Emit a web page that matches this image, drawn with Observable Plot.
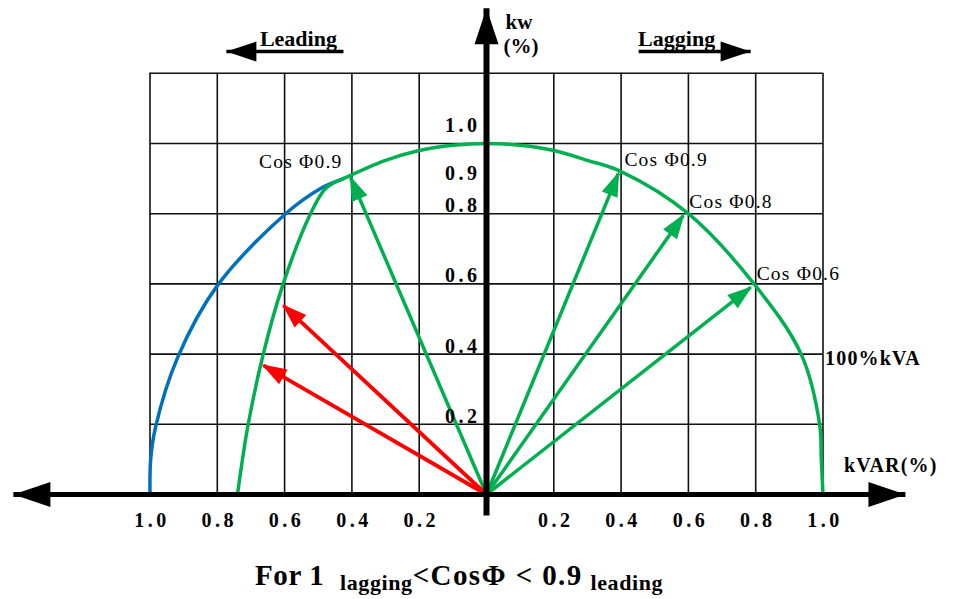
<!DOCTYPE html>
<html><head><meta charset="utf-8">
<script src="https://cdn.jsdelivr.net/npm/d3@7"></script>
<script src="https://cdn.jsdelivr.net/npm/@observablehq/plot@0.6"></script>
<style>
body{margin:0;background:#fff;width:954px;height:599px;overflow:hidden;position:relative}
#chart{position:absolute;left:0;top:0}
#caption{position:absolute;left:255px;top:560px;font-family:"Liberation Serif",serif;font-weight:bold;font-size:29px;white-space:nowrap;line-height:30px;color:#000;letter-spacing:0.6px}
#caption sub{font-size:22px;vertical-align:-5px;line-height:0;letter-spacing:0.6px}
#caption .rel{letter-spacing:1.4px}
</style></head><body>
<div id="chart"></div>
<div id="caption">For 1&nbsp; <sub>lagging</sub><span class="rel">&lt;CosΦ &lt; 0.9</span> <sub>leading</sub></div>
<script>
// ---- data (kVAR on x, kW on y, per unit) ----
const xGrid = [-1.0, -0.8, -0.6, -0.4, -0.2, 0.2, 0.4, 0.6, 0.8, 1.0];
const yGrid = [0.2, 0.4, 0.6, 0.8, 1.0, 1.2];
const xTickLabels = ["1.0", "0.8", "0.6", "0.4", "0.2", "0.2", "0.4", "0.6", "0.8", "1.0"];
const yTickValues = [0.2, 0.4, 0.6, 0.8, 0.9, 1.0];
const yTickLabels = ["0.2", "0.4", "0.6", "0.8", "0.9", "1.0"];

// 100% kVA limit (green), lagging side over the top to the leading 0.9 point
const kvaArcKVAR = [1.0, 0.995, 0.99, 0.935, 0.795, 0.6, 0.4, 0.3, 0.2, 0.1, 0.0, -0.1, -0.2, -0.3, -0.425];
const kvaArcKW   = [0.0, 0.1, 0.2, 0.4, 0.6, 0.8, 0.92, 0.952, 0.98, 0.995, 1.0, 0.995, 0.98, 0.952, 0.9];
// blue: rest of the 100% kVA circle on the leading side
const blueArcKVAR = [-1.0, -0.998, -0.984, -0.918, -0.8, -0.597, -0.493, -0.425];
const blueArcKW   = [0.0, 0.1, 0.19, 0.39, 0.595, 0.8, 0.872, 0.9];
// green: leading capability limit
const leadLimitKVAR = [-0.425, -0.478, -0.523, -0.606, -0.666, -0.71, -0.74];
const leadLimitKW   = [0.9, 0.872, 0.8, 0.595, 0.39, 0.19, 0.0];

// arrows from origin
const greenArrowKVAR = [-0.404, 0.392, 0.585, 0.785];
const greenArrowKW   = [0.903, 0.915, 0.795, 0.59];
const greenArrowLabel = ["Cos Φ0.9", "Cos Φ0.9", "Cos Φ0.8", "Cos Φ0.6"];
const redArrowKVAR = [-0.603, -0.663];
const redArrowKW   = [0.538, 0.368];

// axis extents and direction hints
const axisKVAR = [-1.406, 1.245];
const axisKW = [-0.06, 1.385];
const leadingArrow = [-0.425, -0.773];
const laggingArrow = [0.452, 0.785];
const directionRowKW = 1.262;
const directionLabels = ["Leading", "Lagging"];
const directionLabelKVAR = [-0.559, 0.565];
const directionLabelKW = 1.299;

// ---- helpers ----
const zip = (xs, ys, extra = {}) => xs.map((x, i) => ({x, y: ys[i], ...Object.fromEntries(Object.entries(extra).map(([k, v]) => [k, v[i]]))}));
function tri(len, half, over = 0) {
  return (color, context) => {
    const doc = (context && context.document) || document;
    const m = doc.createElementNS("http://www.w3.org/2000/svg", "marker");
    m.setAttribute("viewBox", `${-len} ${-half} ${len} ${2 * half}`);
    m.setAttribute("markerWidth", len);
    m.setAttribute("markerHeight", 2 * half);
    m.setAttribute("markerUnits", "userSpaceOnUse");
    m.setAttribute("refX", 0);
    m.setAttribute("refY", 0);
    m.setAttribute("orient", "auto-start-reverse");
    m.setAttribute("overflow", "visible");
    const p = doc.createElementNS("http://www.w3.org/2000/svg", "path");
    p.setAttribute("d", `M${over},0L${over - len},${-half}L${over - len},${half}Z`);
    p.setAttribute("fill", color === "currentColor" ? "black" : color);
    p.setAttribute("stroke", "none");
    m.appendChild(p);
    return m;
  };
}

const GREEN = "#00b050", BLUE = "#0070c0", RED = "#ff0000";
const serif = "'Liberation Serif', 'Times New Roman', serif";

const kvaArc = zip(kvaArcKVAR, kvaArcKW);
const blueArc = zip(blueArcKVAR, blueArcKW);
const leadLimit = zip(leadLimitKVAR, leadLimitKW);
const greenArrows = zip(greenArrowKVAR, greenArrowKW, {label: greenArrowLabel});
const redArrows = zip(redArrowKVAR, redArrowKW);
const xTicks = zip(xGrid, xGrid.map(() => 0), {label: xTickLabels});
const yTicks = zip(yTickValues.map(() => 0), yTickValues, {label: yTickLabels});

const tickText = {fontFamily: serif, fontWeight: "bold", fontSize: 20};

const chart = Plot.plot({
  width: 954,
  height: 550,
  margin: 0,
  x: {domain: [-486 / 336.5, (954 - 486) / 336.5], axis: null},
  y: {domain: [(494 - 550) / 351, 494 / 351], axis: null},
  style: {background: "white", color: "black", overflow: "visible"},
  marks: [
    // grid
    Plot.ruleX(xGrid, {x: d => d, y1: 0, y2: 1.2, stroke: "#111", strokeWidth: 1.6}),
    Plot.ruleY(yGrid, {y: d => d, x1: -1, x2: 1, stroke: "#111", strokeWidth: 1.6}),
    // curves
    Plot.line(blueArc, {x: "x", y: "y", stroke: BLUE, strokeWidth: 3.5, curve: "catmull-rom"}),
    Plot.line(kvaArc, {x: "x", y: "y", stroke: GREEN, strokeWidth: 3.5, curve: "catmull-rom"}),
    Plot.line(leadLimit, {x: "x", y: "y", stroke: GREEN, strokeWidth: 3.5, curve: "catmull-rom"}),
    // arrows
    Plot.link(greenArrows, {x1: 0, y1: 0, x2: "x", y2: "y", stroke: GREEN, strokeWidth: 3.5, markerEnd: tri(25, 8.5, 2)}),
    Plot.link(redArrows, {x1: 0, y1: 0, x2: "x", y2: "y", stroke: RED, strokeWidth: 3.8, markerEnd: tri(25, 8.5, 2)}),
    // main axes
    Plot.link([0], {x1: axisKVAR[0], x2: axisKVAR[1], y1: 0, y2: 0, stroke: "black", strokeWidth: 5, markerStart: tri(37, 12.5), markerEnd: tri(37, 12.5)}),
    Plot.link([0], {x1: 0, x2: 0, y1: axisKW[0], y2: axisKW[1], stroke: "black", strokeWidth: 6, markerEnd: tri(36, 12)}),
    // leading / lagging hints
    Plot.link([0], {x1: leadingArrow[0], x2: leadingArrow[1], y1: directionRowKW, y2: directionRowKW, stroke: "black", strokeWidth: 3.5, markerEnd: tri(30, 10)}),
    Plot.link([0], {x1: laggingArrow[0], x2: laggingArrow[1], y1: directionRowKW, y2: directionRowKW, stroke: "black", strokeWidth: 3.5, markerEnd: tri(30, 10)}),
    Plot.text(directionLabels, {x: (d, i) => directionLabelKVAR[i], y: directionLabelKW, text: d => d, fontFamily: serif, fontWeight: "bold", fontSize: 22, textAnchor: "middle", lineAnchor: "middle"}),
    // tick labels
    Plot.text(xTicks, {x: "x", y: "y", text: "label", dy: 26, dx: 2, textAnchor: "middle", ...tickText}),
    Plot.text(yTicks.filter(d => d.y < 0.85), {x: "x", y: "y", text: "label", dx: -6, dy: -8, textAnchor: "end", ...tickText}),
    Plot.text(yTicks.filter(d => d.y > 0.85 && d.y < 0.95), {x: "x", y: "y", text: "label", dx: -6, dy: -5, textAnchor: "end", ...tickText}),
    Plot.text(yTicks.filter(d => d.y > 0.95), {x: "x", y: "y", text: "label", dx: -6, dy: -18, textAnchor: "end", ...tickText}),
    // power factor labels
    Plot.text(greenArrows.filter(d => d.x < 0), {x: "x", y: "y", text: "label", dx: -8, dy: -16, fontFamily: serif, fontSize: 19.5, textAnchor: "end"}),
    Plot.text(greenArrows.filter(d => d.x > 0), {x: "x", y: "y", text: "label", dx: 6, dy: -14, fontFamily: serif, fontSize: 19.5, textAnchor: "start"}),
    // axis titles
    Plot.text(["100%kVA"], {x: 1.0, y: 0.4, text: d => d, dx: 2, dy: 4, fontFamily: serif, fontWeight: "bold", fontSize: 20, textAnchor: "start"}),
    Plot.text(["kVAR(%)"], {x: 1.0, y: 0, text: d => d, dx: 21, dy: -29, fontFamily: serif, fontWeight: "bold", fontSize: 20, textAnchor: "start"}),
    Plot.text(["kw"], {x: 0, y: axisKW[1], text: d => d, dx: 19, dy: 14, fontFamily: serif, fontWeight: "bold", fontSize: 21, textAnchor: "start"}),
    Plot.text(["(%)"], {x: 0, y: axisKW[1], text: d => d, dx: 17, dy: 38, fontFamily: serif, fontWeight: "bold", fontSize: 21, textAnchor: "start"})
  ]
});
// spacing tweaks to match the wide, blocky lettering of the original
const tickSet = new Set([...xTickLabels, ...yTickLabels]);
chart.querySelectorAll("text").forEach(t => {
  const s = t.textContent;
  if (tickSet.has(s)) t.style.letterSpacing = "3.5px";
  else if (s.startsWith("Cos")) t.style.letterSpacing = "1.2px";
  else if (s === "100%kVA" || s === "kVAR(%)") t.style.letterSpacing = "1.2px";
});
document.getElementById("chart").appendChild(chart);
</script>
</body></html>
